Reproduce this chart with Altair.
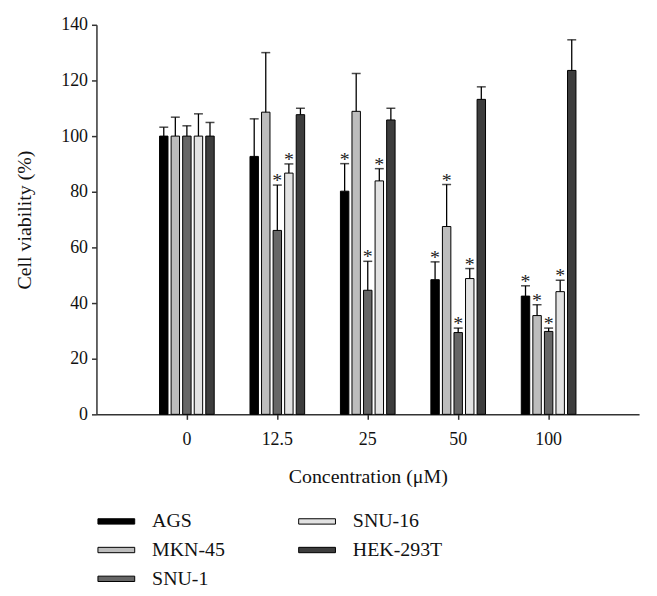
import altair as alt
import pandas as pd

concentrations = ["0", "12.5", "25", "50", "100"]
cell_lines = ["AGS", "MKN-45", "SNU-1", "SNU-16", "HEK-293T"]
colors = ["#000000", "#bdbdbd", "#666666", "#e2e2e2", "#3d3d3d"]

means_ags = [100, 92.7, 80.2, 48.4, 42.5]
means_mkn45 = [100, 108.6, 108.9, 67.5, 35.5]
means_snu1 = [100, 66.1, 44.6, 29.4, 29.8]
means_snu16 = [100, 86.7, 83.9, 48.8, 44.1]
means_hek = [100, 107.7, 105.8, 113.2, 123.6]

upper_ags = [103.2, 106.2, 90.1, 54.8, 46.2]
upper_mkn45 = [106.8, 130.0, 122.5, 82.6, 39.4]
upper_snu1 = [103.7, 82.4, 55.0, 31.0, 31.0]
upper_snu16 = [108.0, 90.0, 88.3, 52.4, 48.2]
upper_hek = [104.9, 110.0, 110.0, 117.7, 134.6]

star_ags = [0, 0, 1, 1, 1]
star_mkn45 = [0, 0, 0, 1, 1]
star_snu1 = [0, 1, 1, 1, 1]
star_snu16 = [0, 1, 1, 1, 1]
star_hek = [0, 0, 0, 0, 0]

means = [means_ags, means_mkn45, means_snu1, means_snu16, means_hek]
uppers = [upper_ags, upper_mkn45, upper_snu1, upper_snu16, upper_hek]
stars = [star_ags, star_mkn45, star_snu1, star_snu16, star_hek]

rows = []
for li, line in enumerate(cell_lines):
    for ci, c in enumerate(concentrations):
        rows.append(dict(conc=c, line=line, mean=means[li][ci],
                         upper=uppers[li][ci],
                         star="*" if stars[li][ci] else ""))
df = pd.DataFrame(rows)

FONT = "Liberation Serif"

x = alt.X("conc:N", sort=concentrations,
          scale=alt.Scale(paddingInner=0.3956, paddingOuter=0.6978),
          axis=alt.Axis(title="Concentration (μM)", labelAngle=0,
                        labelPadding=11, titleY=63, titleBaseline="middle"))
xoff = alt.XOffset("line:N", sort=cell_lines,
                   scale=alt.Scale(paddingInner=0.27, paddingOuter=0))
y = alt.Y("mean:Q", scale=alt.Scale(domain=[0, 140]),
          axis=alt.Axis(title="Cell viability (%)", values=[0, 20, 40, 60, 80, 100, 120, 140],
                        labelPadding=4, titleX=-72, titleY=196,
                        titleBaseline="middle", titleAlign="center"))

base = alt.Chart(df)

bars = base.mark_bar(stroke="black", strokeWidth=1).encode(
    x=x, xOffset=xoff, y=y,
    color=alt.Color("line:N", scale=alt.Scale(domain=cell_lines, range=colors),
                    legend=alt.Legend(title=None, orient="none", legendX=9.5, legendY=489,
                                      columns=2, columnPadding=72, rowPadding=8,
                                      symbolType="M-1.85,-0.27H1.85V0.27H-1.85Z", symbolSize=400,
                                      symbolStrokeColor="black", symbolStrokeWidth=1,
                                      labelFont=FONT, labelFontSize=20, labelColor="#111",
                                      labelOffset=25.5))
)

rules = base.mark_rule(color="black", strokeWidth=1.3).encode(
    x=x, xOffset=xoff, y="mean:Q", y2="upper:Q"
)

caps = base.mark_tick(color="black", thickness=1.5, size=9).encode(
    x=x, xOffset=xoff, y="upper:Q"
)

star_text = base.transform_filter(alt.datum.star != "").mark_text(
    font=FONT, fontSize=20, baseline="alphabetic", dy=2, color="#222"
).encode(x=x, xOffset=xoff, y="upper:Q", text="star:N")

chart = alt.layer(bars, rules, caps, star_text).properties(
    width=546, height=392,
    autosize=alt.AutoSizeParams(type="none"),
    padding={"left": 89, "top": 15, "right": 10, "bottom": 200},
).configure_view(stroke=None).configure_axis(
    grid=False, domainColor="#333", tickColor="#333", domainWidth=1.5, tickWidth=1.5,
    labelFont=FONT, labelFontSize=18, labelColor="#111",
    titleFont=FONT, titleFontSize=20, titleFontWeight="normal", titleColor="#111",
)

chart.save("out.html", embed_options={"renderer": "svg", "actions": False})
